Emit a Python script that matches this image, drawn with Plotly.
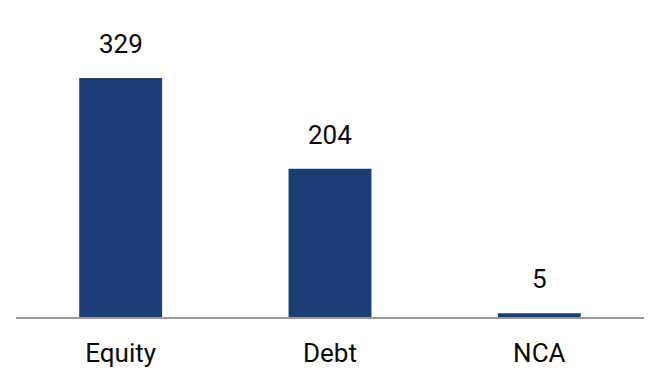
import plotly.graph_objects as go

categories = ["Equity", "Debt", "NCA"]
values = [329, 204, 5]

bar_color = "#1b3f74"

fig = go.Figure()
fig.add_trace(go.Bar(
    x=categories, y=values,
    marker=dict(color=bar_color, line=dict(width=0)),
    hoverinfo="skip",
))

for c, v in zip(categories, values):
    fig.add_annotation(
        x=c, y=v, text=str(v), showarrow=False,
        yanchor="bottom", yshift=17,
        font=dict(family="Roboto", size=26, color="#0a0a0a"),
    )

fig.update_layout(
    width=654, height=392,
    margin=dict(l=16, r=10, t=20, b=75),
    paper_bgcolor="white", plot_bgcolor="white",
    bargap=0.604,
    showlegend=False,
    xaxis=dict(
        showline=True, linecolor="#999999", linewidth=2,
        ticks="", showgrid=False,
        tickfont=dict(family="Roboto", size=26, color="#0a0a0a"),
        ticklabelstandoff=12,
    ),
    yaxis=dict(
        range=[0, 409], visible=False, showgrid=False, zeroline=False,
    ),
)

fig.write_html("out.html")
